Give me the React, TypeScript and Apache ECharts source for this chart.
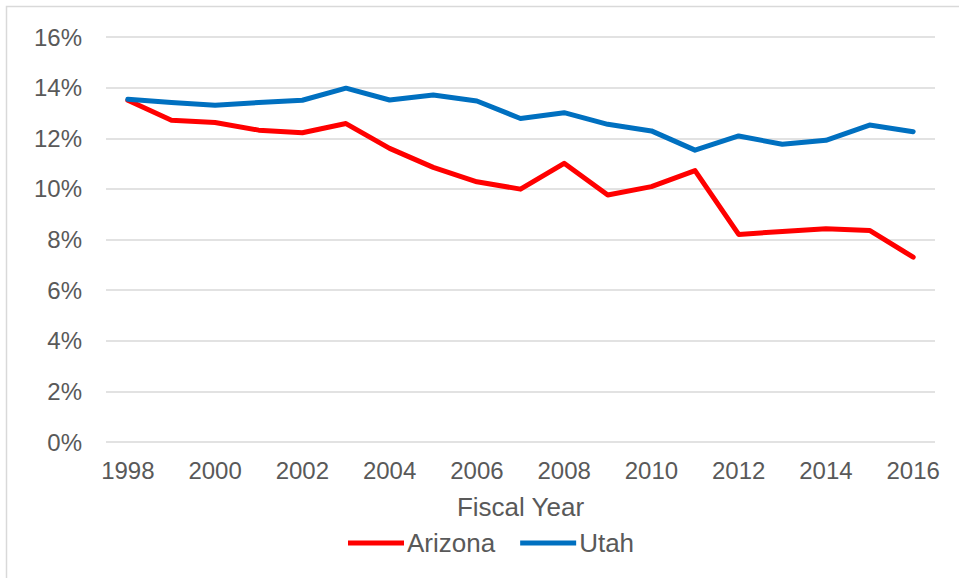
import React, { useEffect, useRef } from "react";
import * as echarts from "echarts";

const years = ["1998","1999","2000","2001","2002","2003","2004","2005","2006","2007","2008","2009","2010","2011","2012","2013","2014","2015","2016"];
const arizona = [13.5, 12.71, 12.62, 12.32, 12.22, 12.58, 11.6, 10.85, 10.28, 9.99, 11.01, 9.76, 10.09, 10.72, 8.2, 8.32, 8.42, 8.36, 7.3];
const utah = [13.54, 13.41, 13.3, 13.41, 13.5, 13.98, 13.51, 13.71, 13.47, 12.78, 13.01, 12.55, 12.29, 11.53, 12.09, 11.76, 11.92, 12.52, 12.26];
const seriesNames = ["Arizona", "Utah"];
const seriesColors = ["#FF0000", "#0070C0"];

const FONT = "'Liberation Sans', Arial, sans-serif";
const TEXT_COLOR = "#595959";

export default function App() {
  const ref = useRef<HTMLDivElement>(null);
  useEffect(() => {
    if (!ref.current) return;
    const chart = echarts.init(ref.current, null, { renderer: "svg" });
    chart.setOption({
      animation: false,
      backgroundColor: "#ffffff",
      textStyle: { fontFamily: FONT },
      graphic: [
        {
          type: "rect",
          shape: { x: 6.5, y: 6.5, width: 1000, height: 1000 },
          style: { fill: "none", stroke: "#d9d9d9", lineWidth: 1.5 },
          silent: true,
        },
      ],
      grid: { left: 106, right: 24, top: 37, bottom: 136 },
      legend: {
        left: 343,
        top: 525,
        icon: "rect",
        itemWidth: 56,
        itemHeight: 5,
        itemGap: 25,
        textStyle: { fontSize: 26, color: TEXT_COLOR, fontFamily: FONT, padding: [0, 0, 0, -2] },
        data: seriesNames,
      },
      xAxis: {
        type: "category",
        data: years,
        boundaryGap: true,
        name: "Fiscal Year",
        nameLocation: "middle",
        nameGap: 52,
        nameTextStyle: { fontSize: 26, color: TEXT_COLOR, fontFamily: FONT },
        axisLine: { show: false },
        axisTick: { show: false },
        axisLabel: { interval: 1, fontSize: 24, color: TEXT_COLOR, margin: 16, fontFamily: FONT },
      },
      yAxis: {
        type: "value",
        min: 0,
        max: 16,
        interval: 2,
        axisLine: { show: false },
        axisTick: { show: false },
        axisLabel: { formatter: "{value}%", fontSize: 24, color: TEXT_COLOR, margin: 24, fontFamily: FONT },
        splitLine: { lineStyle: { color: "#d9d9d9", width: 1.5 } },
      },
      series: [
        {
          name: seriesNames[0],
          type: "line",
          data: arizona,
          symbol: "none",
          lineStyle: { width: 5, color: seriesColors[0], cap: "round", join: "round" },
          itemStyle: { color: seriesColors[0] },
        },
        {
          name: seriesNames[1],
          type: "line",
          data: utah,
          symbol: "none",
          lineStyle: { width: 5, color: seriesColors[1], cap: "round", join: "round" },
          itemStyle: { color: seriesColors[1] },
        },
      ],
    });
    return () => chart.dispose();
  }, []);
  return <div ref={ref} style={{ width: 959, height: 578, position: "absolute", left: 0, top: 0 }} />;
}
